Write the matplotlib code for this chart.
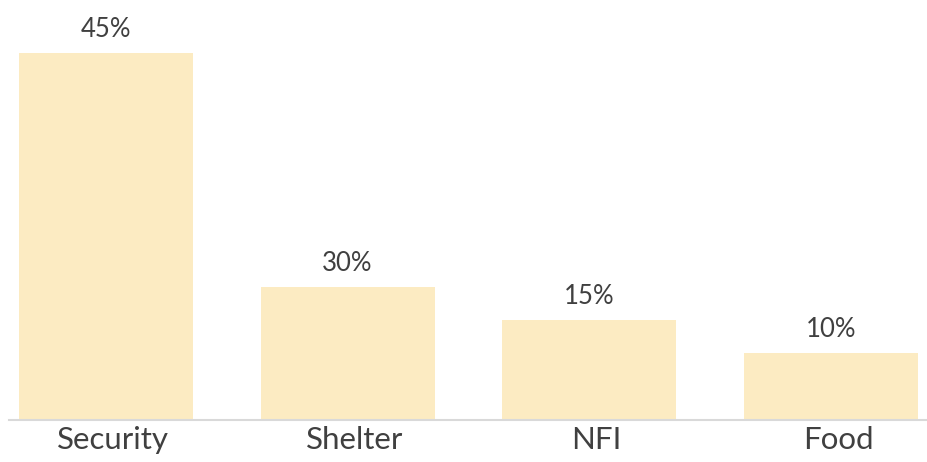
import matplotlib
matplotlib.use("Agg")
import matplotlib.pyplot as plt
import matplotlib.transforms as mtransforms

categories = ["Security", "Shelter", "NFI", "Food"]
bar_values = [55, 20, 15, 10]
value_labels = ["45%", "30%", "15%", "10%"]

plt.rcParams['font.family'] = ['Lato', 'DejaVu Sans']

fig = plt.figure(figsize=(9.28, 4.62), dpi=100)
ax = fig.add_axes([9/928, 1 - 420/462, 919/928, 420/462])

x = list(range(len(categories)))
bars = ax.bar(x, bar_values, width=0.72, color="#FCEBC2", zorder=2)
for rect, lab in zip(bars, value_labels):
    ax.annotate(lab, (rect.get_x() + rect.get_width()/2, rect.get_height()),
                xytext=(0, 8), textcoords="offset points",
                ha="center", va="bottom", fontsize=18.5, color="#404040")

ax.set_xlim(-0.4, 3.4)
ax.set_ylim(0, 63)
ax.set_xticks(x)
ax.set_xticklabels(categories, fontsize=22.5, color="#404040")
ax.tick_params(axis="x", length=0, pad=4)
shift = mtransforms.ScaledTranslation(7/100, 0, fig.dpi_scale_trans)
for lbl in ax.get_xticklabels():
    lbl.set_transform(lbl.get_transform() + shift)
ax.set_yticks([])
for s in ["top", "right", "left"]:
    ax.spines[s].set_visible(False)
ax.spines["bottom"].set_color("#D9D9D9")
ax.spines["bottom"].set_linewidth(1.5)

fig.savefig("out.png", dpi=100)
